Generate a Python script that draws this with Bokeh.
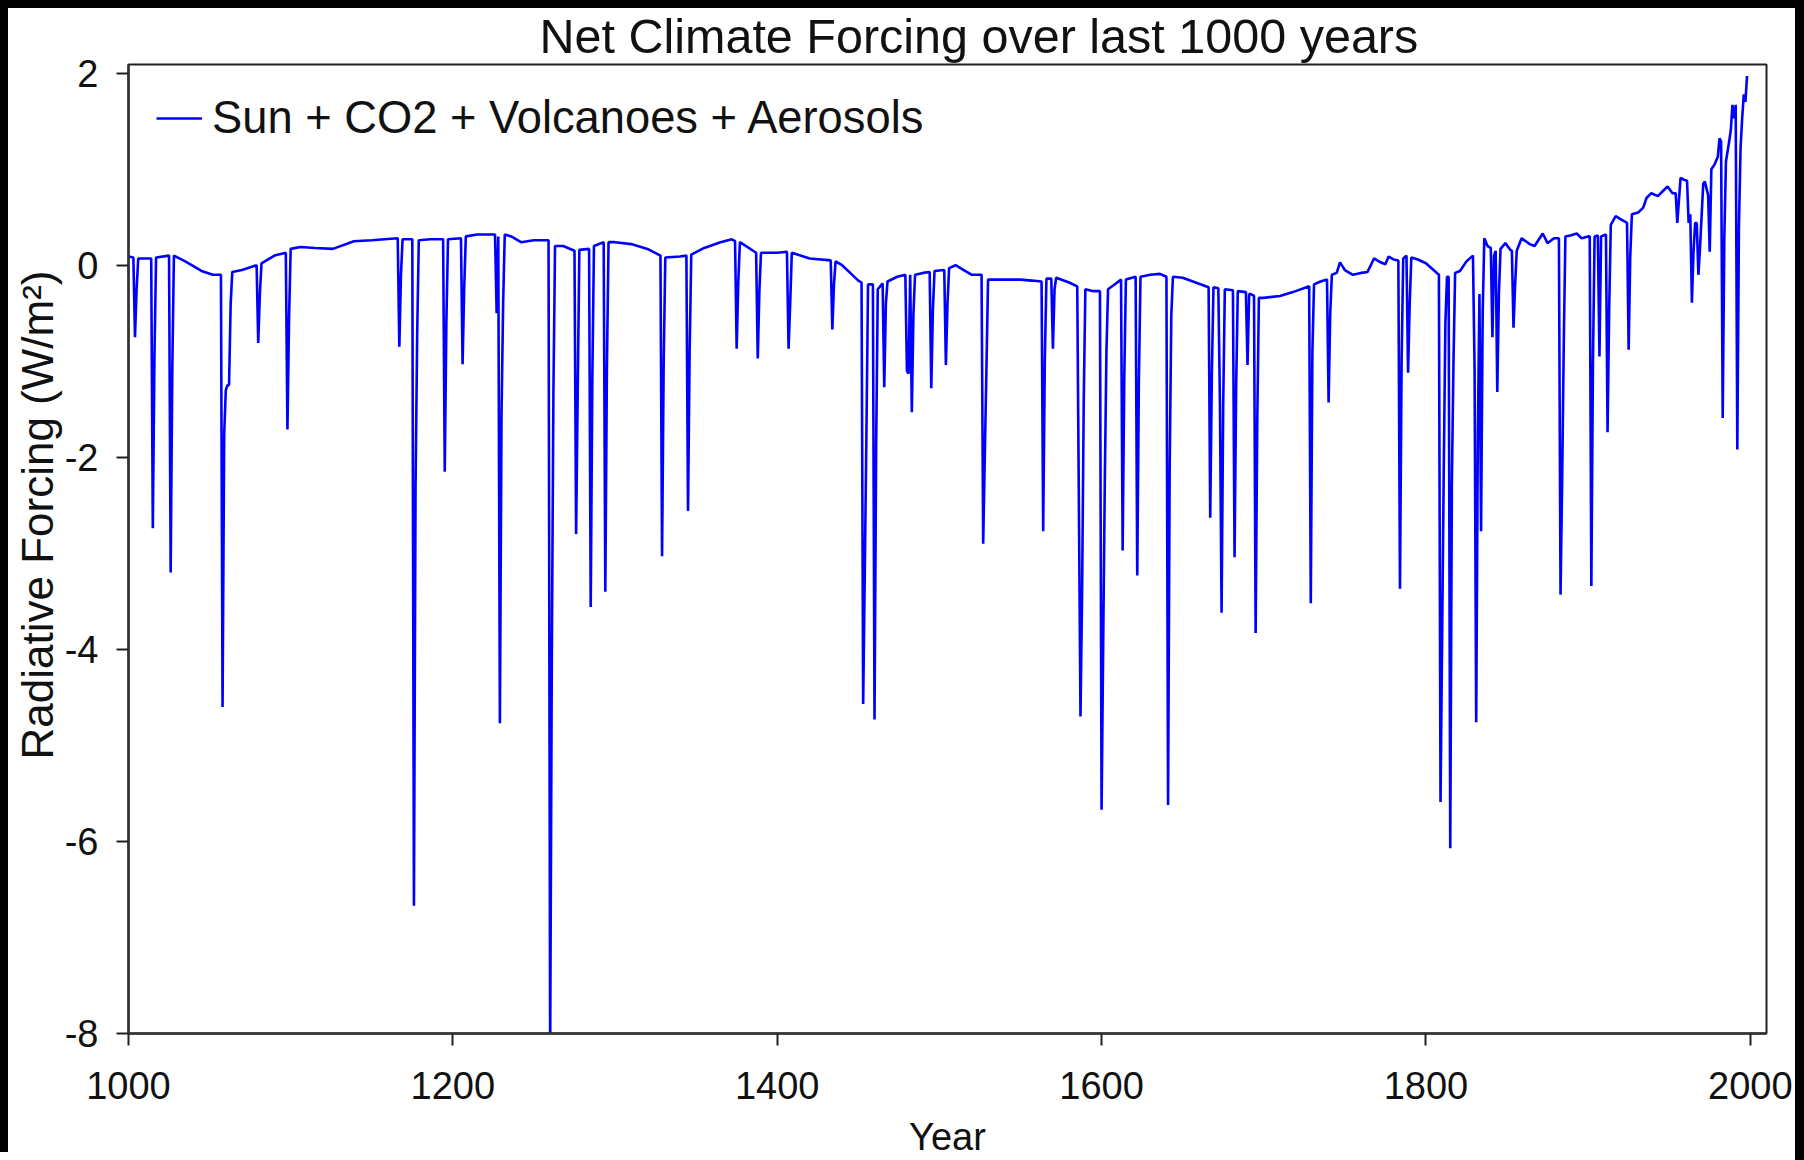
from bokeh.plotting import figure
from bokeh.models import FixedTicker, Range1d, Title
from bokeh.embed import file_html
from bokeh.resources import INLINE

# ---- data: annual net forcing (W/m2), by century ----
years_1000 = [1000, 1003, 1004, 1005, 1006, 1014, 1015, 1016, 1017, 1025, 1026, 1027, 1028, 1035, 1045, 1052,
              1057, 1058, 1059, 1060, 1061, 1062, 1063, 1064, 1070, 1079, 1080, 1081, 1082, 1090, 1097, 1098, 1099]
vals_1000 = [0.09, 0.08, -0.75, -0.25, 0.07, 0.07, -2.74, -0.95, 0.08, 0.10, -3.20, -1.10, 0.10, 0.04, -0.06, -0.10,
             -0.10, -4.60, -1.76, -1.30, -1.25, -1.25, -0.40, -0.07, -0.05, 0.00, -0.81, -0.30, 0.02, 0.10, 0.13, -1.71, -0.55]

years_1100 = [1100, 1106, 1115, 1126, 1139, 1150, 1166, 1167, 1168, 1169, 1175, 1176, 1177, 1178, 1179, 1186,
              1194, 1195, 1196, 1197]
vals_1100 = [0.17, 0.19, 0.18, 0.17, 0.25, 0.26, 0.28, -0.85, -0.10, 0.27, 0.27, -6.67, -2.30, -0.72, 0.26, 0.27,
             0.27, -2.15, -0.60, 0.27]

years_1200 = [1205, 1206, 1207, 1208, 1215, 1226, 1227, 1228, 1229, 1230, 1231, 1232, 1236, 1242, 1250, 1259,
              1260, 1261, 1262, 1263, 1268, 1275, 1276, 1277, 1278, 1284, 1285, 1286, 1287, 1293, 1294, 1295, 1296]
vals_1200 = [0.28, -1.03, -0.23, 0.30, 0.32, 0.32, -0.50, 0.30, -4.77, -1.56, -0.40, 0.32, 0.30, 0.24, 0.26, 0.26,
             -8.20, -4.15, -1.34, 0.20, 0.20, 0.15, -2.80, -1.30, 0.16, 0.17, -3.56, -1.19, 0.20, 0.24, -3.40, -1.05, 0.24]

years_1300 = [1300, 1310, 1320, 1328, 1329, 1330, 1331, 1340, 1344, 1345, 1346, 1347, 1355, 1365, 1372, 1374,
              1375, 1376, 1377, 1387, 1388, 1389, 1390]
vals_1300 = [0.24, 0.22, 0.17, 0.10, -3.03, -1.00, 0.08, 0.09, 0.10, -2.56, -0.90, 0.11, 0.18, 0.24, 0.27, 0.25,
             -0.87, -0.18, 0.24, 0.13, -0.97, -0.27, 0.13]

years_1400 = [1400, 1406, 1407, 1408, 1409, 1420, 1433, 1434, 1435, 1436, 1440, 1445, 1450, 1452, 1453, 1454,
              1455, 1456, 1459, 1460, 1461, 1462, 1465, 1466, 1467, 1468, 1474, 1479, 1480, 1481, 1482, 1483,
              1484, 1485, 1490, 1494, 1495, 1496, 1497]
vals_1400 = [0.13, 0.14, -0.87, -0.40, 0.13, 0.07, 0.05, -0.67, -0.20, 0.04, 0.00, -0.08, -0.16, -0.18, -4.57, -3.20,
             -1.76, -0.20, -0.20, -4.73, -1.90, -0.25, -0.19, -1.27, -0.40, -0.17, -0.12, -0.10, -1.10, -1.13, -0.10, -1.53,
             -0.50, -0.10, -0.08, -0.07, -1.28, -0.46, -0.06]

years_1500 = [1503, 1504, 1505, 1506, 1510, 1515, 1520, 1526, 1527, 1528, 1529, 1530, 1540, 1550, 1557, 1563,
              1564, 1565, 1566, 1569, 1570, 1571, 1572, 1580, 1585, 1586, 1587, 1588, 1589, 1590, 1595, 1599]
vals_1500 = [-0.05, -1.04, -0.40, -0.03, 0.00, -0.05, -0.10, -0.10, -2.90, -1.98, -1.09, -0.15, -0.15, -0.15, -0.16, -0.17,
             -2.77, -1.00, -0.14, -0.14, -0.87, -0.25, -0.13, -0.18, -0.22, -2.46, -4.70, -3.40, -1.42, -0.25, -0.27, -0.27]

years_1600 = [1600, 1601, 1602, 1603, 1604, 1608, 1612, 1613, 1614, 1615, 1621, 1622, 1623, 1624, 1630, 1636,
              1640, 1641, 1642, 1643, 1644, 1650, 1658, 1666, 1667, 1668, 1669, 1672, 1673, 1674, 1675, 1676,
              1681, 1682, 1683, 1684, 1689, 1690, 1691, 1692, 1694, 1695, 1696, 1697]
vals_1600 = [-5.67, -3.95, -2.24, -0.90, -0.25, -0.20, -0.15, -2.97, -1.17, -0.15, -0.12, -3.23, -1.20, -0.12, -0.10, -0.09,
             -0.12, -5.62, -2.10, -0.52, -0.12, -0.13, -0.18, -0.23, -2.63, -1.13, -0.23, -0.24, -1.45, -3.62, -1.45, -0.25,
             -0.26, -3.04, -1.25, -0.27, -0.28, -1.04, -0.30, -0.30, -0.32, -3.83, -1.63, -0.34]

years_1700 = [1700, 1710, 1718, 1728, 1729, 1730, 1731, 1735, 1739, 1740, 1741, 1742, 1745, 1747, 1750, 1755,
              1760, 1764, 1768, 1772, 1775, 1777, 1780, 1783, 1784, 1785, 1786, 1788, 1789, 1790, 1791, 1795]
vals_1700 = [-0.34, -0.32, -0.28, -0.22, -3.52, -0.90, -0.20, -0.17, -0.15, -1.43, -0.50, -0.10, -0.08, 0.03, -0.05, -0.10,
             -0.08, -0.07, 0.07, 0.03, 0.01, 0.09, 0.06, 0.05, -3.37, -1.00, 0.07, 0.10, -1.12, -0.40, 0.08, 0.06]

years_1800 = [1800, 1804, 1808, 1809, 1810, 1811, 1812, 1813, 1814, 1815, 1816, 1817, 1818, 1821, 1825, 1829,
              1830, 1831, 1832, 1833, 1834, 1835, 1836, 1838, 1840, 1841, 1842, 1843, 1844, 1845, 1846, 1849,
              1852, 1853, 1854, 1855, 1856, 1859, 1864, 1867, 1872, 1875, 1879, 1882, 1883, 1884, 1885, 1886,
              1889, 1893, 1896]
vals_1800 = [0.02, -0.04, -0.10, -5.59, -3.86, -2.12, -0.60, -0.12, -0.12, -6.07, -2.26, -1.00, -0.08, -0.06, 0.04, 0.10,
             -1.07, -4.76, -1.80, -0.30, -2.77, -0.50, 0.28, 0.20, 0.18, -0.75, 0.10, 0.15, -1.32, -0.30, 0.17, 0.23,
             0.16, 0.15, -0.65, -0.20, 0.15, 0.28, 0.22, 0.20, 0.33, 0.23, 0.28, 0.28, -3.43, -2.24, -0.80, 0.30,
             0.31, 0.33, 0.28]

years_1900 = [1900, 1901, 1902, 1903, 1904, 1906, 1907, 1908, 1911, 1912, 1913, 1914, 1917, 1920, 1924, 1925,
              1926, 1927, 1931, 1934, 1936, 1939, 1943, 1946, 1949, 1952, 1954, 1955, 1957, 1959, 1961, 1962,
              1963, 1964, 1965, 1966, 1967, 1968, 1969, 1971, 1972, 1974, 1975, 1976, 1978, 1980, 1981, 1982,
              1983, 1984, 1985, 1987, 1988, 1989, 1990, 1991, 1992, 1993, 1994, 1995, 1996, 1997, 1998]
vals_1900 = [0.30, 0.30, -3.34, -1.00, 0.30, 0.31, -0.95, 0.30, 0.32, -1.74, -0.45, 0.42, 0.51, 0.48, 0.44, -0.88,
             0.10, 0.53, 0.55, 0.60, 0.70, 0.75, 0.72, 0.77, 0.82, 0.75, 0.75, 0.44, 0.91, 0.89, 0.88, 0.44,
             0.53, -0.39, 0.14, 0.44, 0.44, -0.10, 0.18, 0.85, 0.87, 0.73, 0.14, 1.00, 1.05, 1.13, 1.32, 1.29,
             -1.59, 0.30, 1.08, 1.29, 1.41, 1.67, 1.53, 1.67, -1.92, 0.40, 1.22, 1.53, 1.78, 1.70, 1.97]

x_ticks = [1000, 1200, 1400, 1600, 1800, 2000]
y_ticks = [-8, -6, -4, -2, 0, 2]
y_tick_labels = ["-8", "-6", "-4", "-2", "0", "2"]

title_text = "Net Climate Forcing over last 1000 years"
series_label = "Sun + CO2 + Volcanoes + Aerosols"
x_label = "Year"
y_label = "Radiative Forcing (W/m\u00b2)"

years = (years_1000 + years_1100 + years_1200 + years_1300 + years_1400 +
         years_1500 + years_1600 + years_1700 + years_1800 + years_1900)
forcing = (vals_1000 + vals_1100 + vals_1200 + vals_1300 + vals_1400 +
           vals_1500 + vals_1600 + vals_1700 + vals_1800 + vals_1900)

FONT = "Liberation Sans"

p = figure(width=1787, height=1152, output_backend="svg", toolbar_location=None,
           x_range=Range1d(1000, 2010), y_range=Range1d(-8, 2.09),
           min_border_left=120, min_border_right=29, min_border_top=55, min_border_bottom=127,
           title=title_text, margin=(8, 0, 0, 8),
           styles={"box-shadow": "-8px -8px 0 0 black, 12px -8px 0 0 black, 12px 0 0 0 black"})

p.background_fill_color = "white"
p.border_fill_color = "white"
p.outline_line_color = "#222222"
p.outline_line_width = 2

p.title.text_font = FONT
p.title.text_font_size = "48.5px"
p.title.text_font_style = "normal"
p.title.text_color = "#111111"
p.title.align = "left"
p.title.vertical_align = "top"
p.title.text_line_height = 0.7
p.title.offset = 411
p.title.standoff = 0

p.xgrid.visible = False
p.ygrid.visible = False

p.line(years, forcing, line_color="#0000ff", line_width=2.6, legend_label=series_label)

for ax in (p.xaxis[0], p.yaxis[0]):
    ax.axis_line_color = "#333333"
    ax.axis_line_width = 2.5
    ax.major_tick_line_color = "#222222"
    ax.major_tick_line_width = 2
    ax.major_tick_in = 0
    ax.major_tick_out = 12
    ax.minor_tick_line_color = None
    ax.major_label_text_font = FONT
    ax.major_label_text_font_size = "38px"
    ax.major_label_text_color = "#111111"
    ax.axis_label_text_font = FONT
    ax.axis_label_text_font_style = "normal"
    ax.axis_label_text_color = "#111111"

p.xaxis.ticker = FixedTicker(ticks=x_ticks)
p.yaxis.ticker = FixedTicker(ticks=y_ticks)
p.yaxis.major_label_overrides = {t: s for t, s in zip(y_ticks, y_tick_labels)}
p.xaxis.axis_label = x_label
p.xaxis.axis_label_text_font_size = "38px"
p.xaxis.axis_label_text_line_height = 0.7
p.xaxis.major_label_standoff = 26
p.yaxis.major_label_standoff = 18
p.xaxis.axis_label_standoff = 14

# y-axis label as a side title so it can sit where the reference puts it
ylab = Title(text=y_label, align="left", offset=274, standoff=0,
             text_font=FONT, text_font_size="44px", text_font_style="normal",
             text_color="#111111")
p.add_layout(ylab, "left")

lg = p.legend[0]
lg.location = "top_left"
lg.border_line_color = None
lg.background_fill_alpha = 0
lg.label_text_font = FONT
lg.label_text_font_size = "45.3px"
lg.label_text_color = "#111111"
lg.glyph_width = 46
lg.label_standoff = 10
lg.margin = 28
lg.padding = 10

open("out.html", "w").write(file_html(p, INLINE))
